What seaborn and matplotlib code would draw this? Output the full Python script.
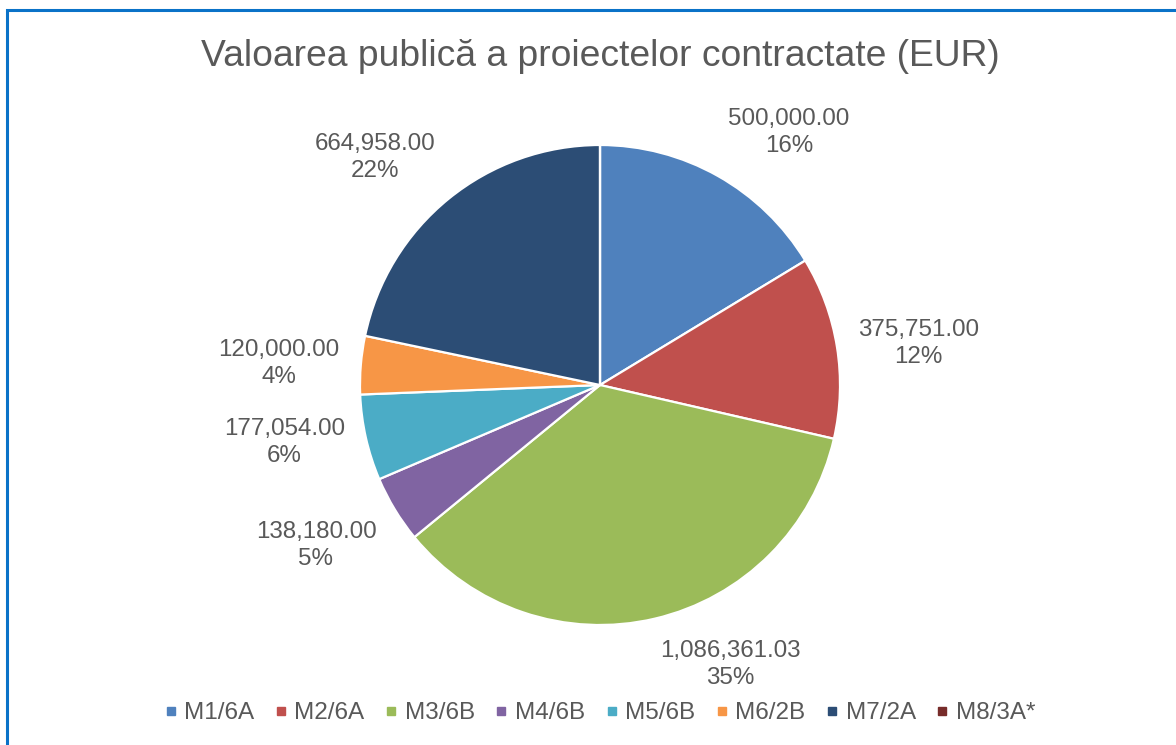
import numpy as np
import matplotlib
matplotlib.use("Agg")
import matplotlib.pyplot as plt
from matplotlib.lines import Line2D
from matplotlib.patches import Rectangle
import seaborn as sns

# data
categories = ["M1/6A", "M2/6A", "M3/6B", "M4/6B", "M5/6B", "M6/2B", "M7/2A", "M8/3A*"]
values = [500000.00, 375751.00, 1086361.03, 138180.00, 177054.00, 120000.00, 664958.00, 0.0]
colors = ["#4F81BD", "#C0504D", "#9BBB59", "#8064A2", "#4BACC6", "#F79646", "#2C4D75", "#772C2A"]
title = "Valoarea publică a proiectelor contractate (EUR)"

sns.set_theme(style="white")
plt.rcParams["font.family"] = ["Liberation Sans", "DejaVu Sans"]
text_color = "#595959"

W, H = 1176, 745
fig = plt.figure(figsize=(W / 100, H / 100), dpi=100)

# pie centre and radius in pixels
cx, cy, R = 600, 385, 238
half = 300
ax = fig.add_axes([(cx - half) / W, (H - cy - half) / H, 2 * half / W, 2 * half / H])
lim = half / R
ax.set_xlim(-lim, lim)
ax.set_ylim(-lim, lim)
ax.set_aspect("equal")
ax.axis("off")

pal = sns.color_palette(colors)
wedges, _ = ax.pie(values, colors=pal, startangle=90, counterclock=False,
                   radius=1.0, wedgeprops=dict(edgecolor="white", linewidth=1.6))

total = sum(values)
for w, v in zip(wedges, values):
    if v == 0:
        continue
    ang = np.deg2rad((w.theta1 + w.theta2) / 2)
    c, s = np.cos(ang), np.sin(ang)
    ha = "left" if c > 0.2 else ("right" if c < -0.2 else "center")
    va = "bottom" if s > 0.5 else ("top" if s < -0.5 else "center")
    r = 1.09
    ax.text(r * c, r * s, f"{v:,.2f}\n{v / total:.0%}", ha=ha, va=va,
            multialignment="center", fontsize=17.4, color=text_color,
            linespacing=1.3)

fig.text(cx / W, 1 - 56 / H, title, ha="center", va="center", fontsize=26.8, color=text_color)

handles = [Line2D([0], [0], marker="s", linestyle="none", markersize=6,
                  markerfacecolor=col, markeredgecolor=col) for col in pal]
fig.legend(handles, categories, loc="center", bbox_to_anchor=(cx / W, 1 - 713 / H),
           ncol=len(categories), frameon=False, fontsize=17.5, labelcolor=text_color,
           handlelength=0.5, handletextpad=0.3, columnspacing=0.85)

# blue chart-area border
fig.patches.append(Rectangle((7 / W, -0.5), 2.0, 1.5 - 10 / H, transform=fig.transFigure,
                             fill=False, edgecolor="#0A72C8", linewidth=2.2))

fig.savefig("out.png", dpi=100, facecolor="white")
